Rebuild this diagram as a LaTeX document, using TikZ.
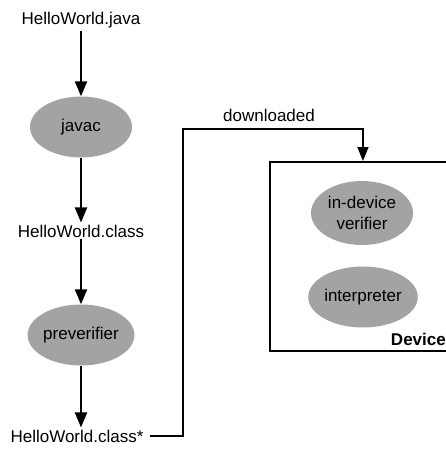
\documentclass[tikz,border=0pt]{standalone}
\usepackage{fontspec}
\setmainfont{Liberation Sans}
\usetikzlibrary{arrows.meta,shapes.geometric}
\definecolor{blob}{gray}{0.64}
\tikzset{
  txt/.style={font=\fontsize{17}{21}\selectfont, inner sep=2pt},
  proc/.style={ellipse, fill=blob, minimum width=102pt, minimum height=61pt,
    inner sep=0pt, align=center, font=\fontsize{17}{21}\selectfont},
  flow/.style={line width=2.1pt, -{Triangle[length=15pt,width=12pt]}},
  wire/.style={line width=1.5pt, -{Triangle[length=14pt,width=11pt]}},
  frame/.style={draw, line width=1.9pt, minimum width=186pt, minimum height=189pt,
    inner sep=0pt, anchor=north west},
}
\begin{document}
\begin{tikzpicture}[x=1pt,y=-1pt]
\useasboundingbox (0,0) rectangle (446,452);
\clip (0,0) rectangle (446,452);

% build chain on the host
\node[txt, anchor=base] (java) at (81,25) {HelloWorld.java};
\node[proc] (javac) at (81,127) {javac};
\node[txt, anchor=base] (cls) at (81,237) {HelloWorld.class};
\node[proc] (prever) at (81,335) {preverifier};
\node[txt, anchor=base] (clsv) at (77,442) {HelloWorld.class*};

\draw[flow] (java) -- (javac);
\draw[flow] (javac) -- (cls);
\draw[flow] (cls) -- (prever);
\draw[flow] (prever) -- (prever.south |- clsv.north);

% the device
\node[frame] (device) at (269,161) {};
\node[proc, minimum height=64pt] (verif) at (362,213) {in-device\\verifier};
\node[proc] (interp) at (363,297) {interpreter};
\node[txt, font=\fontsize{17}{21}\selectfont\bfseries, anchor=base east] (devlbl) at (448,345) {Device};

% download path
\coordinate (up) at (183,129);
\node[txt, anchor=base] (dl) at (269,121) {downloaded};
\draw[wire] ([xshift=4pt]clsv.east) -| (up) -| (device.north);
\end{tikzpicture}
\end{document}
